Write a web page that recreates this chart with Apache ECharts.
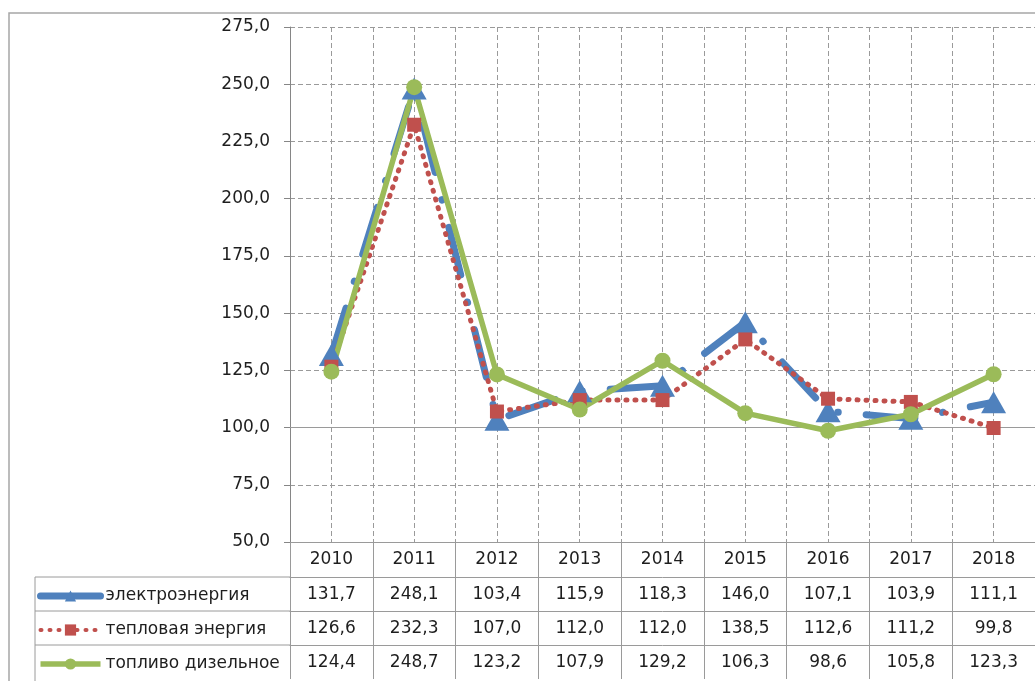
<!DOCTYPE html>
<html>
<head>
<meta charset="utf-8">
<script src="https://cdn.jsdelivr.net/npm/echarts@6/dist/echarts.min.js"></script>
<style>
  html, body { margin: 0; padding: 0; background: #fff; }
  #chart { width: 1035px; height: 681px; }
</style>
</head>
<body>
<div id="chart"></div>
<script>
// годы
var years = ['2010', '2011', '2012', '2013', '2014', '2015', '2016', '2017', '2018'];
// ряды данных
var elecName = 'электроэнергия';
var elecData = [131.7, 248.1, 103.4, 115.9, 118.3, 146.0, 107.1, 103.9, 111.1];
var heatName = 'тепловая энергия';
var heatData = [126.6, 232.3, 107.0, 112.0, 112.0, 138.5, 112.6, 111.2, 99.8];
var dieselName = 'топливо дизельное';
var dieselData = [124.4, 248.7, 123.2, 107.9, 129.2, 106.3, 98.6, 105.8, 123.3];
// ось Y
var yMin = 50, yMax = 275, yStep = 25;
var baseLine = 100;

var FONT = 'DejaVu Sans';
var FS = 17;
var GRAY = '#9a9a9a';
var TEXT = '#1e1e1e';

var BLUE = '#4f81bd', RED = '#c0504d', GREEN = '#9bbb59';

function fmt(v) {
  return Number(v).toFixed(1).replace('.', ',');
}

var chart = echarts.init(document.getElementById('chart'));

// ось-строка таблицы данных
function rowAxis(values, offset) {
  return {
    type: 'category',
    data: values.map(fmt),
    position: 'bottom',
    offset: offset,
    axisLine: { show: true, lineStyle: { color: GRAY, width: 1 } },
    axisTick: { show: true, interval: 0, length: 34, lineStyle: { color: GRAY } },
    axisLabel: { show: true, interval: 0, margin: 9, color: TEXT, fontSize: FS, fontFamily: FONT },
    splitLine: { show: false }
  };
}

var option = {
  backgroundColor: '#fff',
  animation: false,
  grid: { left: 290, width: 758, top: 27, height: 515 },
  legend: {
    orient: 'vertical',
    left: 37,
    top: 586,
    height: 95,
    padding: 0,
    itemWidth: 60,
    itemHeight: 14,
    itemGap: 14,
    data: [
      { name: elecName, lineStyle: { width: 7, type: 'solid' } },
      { name: heatName, lineStyle: { width: 4 } },
      { name: dieselName, lineStyle: { width: 5.5 } }
    ],
    textStyle: { color: TEXT, fontSize: FS, fontFamily: FONT, lineHeight: 20 }
  },
  xAxis: [
    {
      type: 'category',
      data: years,
      position: 'bottom',
      boundaryGap: true,
      axisLine: { show: true, lineStyle: { color: GRAY, width: 1 } },
      axisTick: { show: true, interval: 0, length: 35, lineStyle: { color: GRAY } },
      axisLabel: { interval: 0, margin: 9, color: TEXT, fontSize: FS, fontFamily: FONT },
      splitLine: { show: false }
    },
    rowAxis(elecData, 35),
    rowAxis(heatData, 69),
    rowAxis(dieselData, 103),
    {
      // вертикальная сетка
      type: 'value',
      min: 0,
      max: years.length,
      interval: 0.5,
      position: 'top',
      axisLine: { show: false },
      axisTick: { show: false },
      axisLabel: { show: false },
      splitLine: { show: true, lineStyle: { color: GRAY, type: [5, 3], width: 1 } }
    }
  ],
  yAxis: {
    type: 'value',
    min: yMin,
    max: yMax,
    interval: yStep,
    axisLine: { show: true, lineStyle: { color: '#868686', width: 1 } },
    axisTick: { show: true, length: 6, lineStyle: { color: '#868686' } },
    axisLabel: { margin: 20, color: TEXT, fontSize: FS, fontFamily: FONT, formatter: fmt },
    splitLine: { show: true, lineStyle: { color: GRAY, type: [5, 3], width: 1 } }
  },
  series: [
    {
      name: elecName,
      type: 'line',
      data: elecData,
      symbol: 'triangle',
      symbolSize: [25, 22],
      itemStyle: { color: BLUE },
      lineStyle: { color: BLUE, width: 7, type: [49, 28, 0.5, 28], cap: 'round' },
      markLine: {
        silent: true,
        symbol: 'none',
        z: 1,
        label: { show: false },
        lineStyle: { color: GRAY, type: 'solid', width: 1 },
        data: [{ yAxis: baseLine }]
      }
    },
    {
      name: heatName,
      type: 'line',
      data: heatData,
      symbol: 'rect',
      symbolSize: 14,
      itemStyle: { color: RED },
      lineStyle: { color: RED, width: 5, type: [1, 8], cap: 'round' }
    },
    {
      name: dieselName,
      type: 'line',
      data: dieselData,
      symbol: 'circle',
      symbolSize: 16,
      itemStyle: { color: GREEN },
      lineStyle: { color: GREEN, width: 5.5 }
    }
  ],
  graphic: [
    // рамка области диаграммы
    { type: 'rect', silent: true, z: 0, shape: { x: 9, y: 13, width: 1200, height: 900 },
      style: { fill: 'none', stroke: '#a6a6a6', lineWidth: 1.5 } },
    // левая часть таблицы данных
    { type: 'line', silent: true, shape: { x1: 35, y1: 577, x2: 290, y2: 577 }, style: { stroke: GRAY, lineWidth: 1 } },
    { type: 'line', silent: true, shape: { x1: 35, y1: 611, x2: 290, y2: 611 }, style: { stroke: GRAY, lineWidth: 1 } },
    { type: 'line', silent: true, shape: { x1: 35, y1: 645, x2: 290, y2: 645 }, style: { stroke: GRAY, lineWidth: 1 } },
    { type: 'line', silent: true, shape: { x1: 35, y1: 577, x2: 35, y2: 700 }, style: { stroke: GRAY, lineWidth: 1 } }
  ]
};

chart.setOption(option);
</script>
</body>
</html>
